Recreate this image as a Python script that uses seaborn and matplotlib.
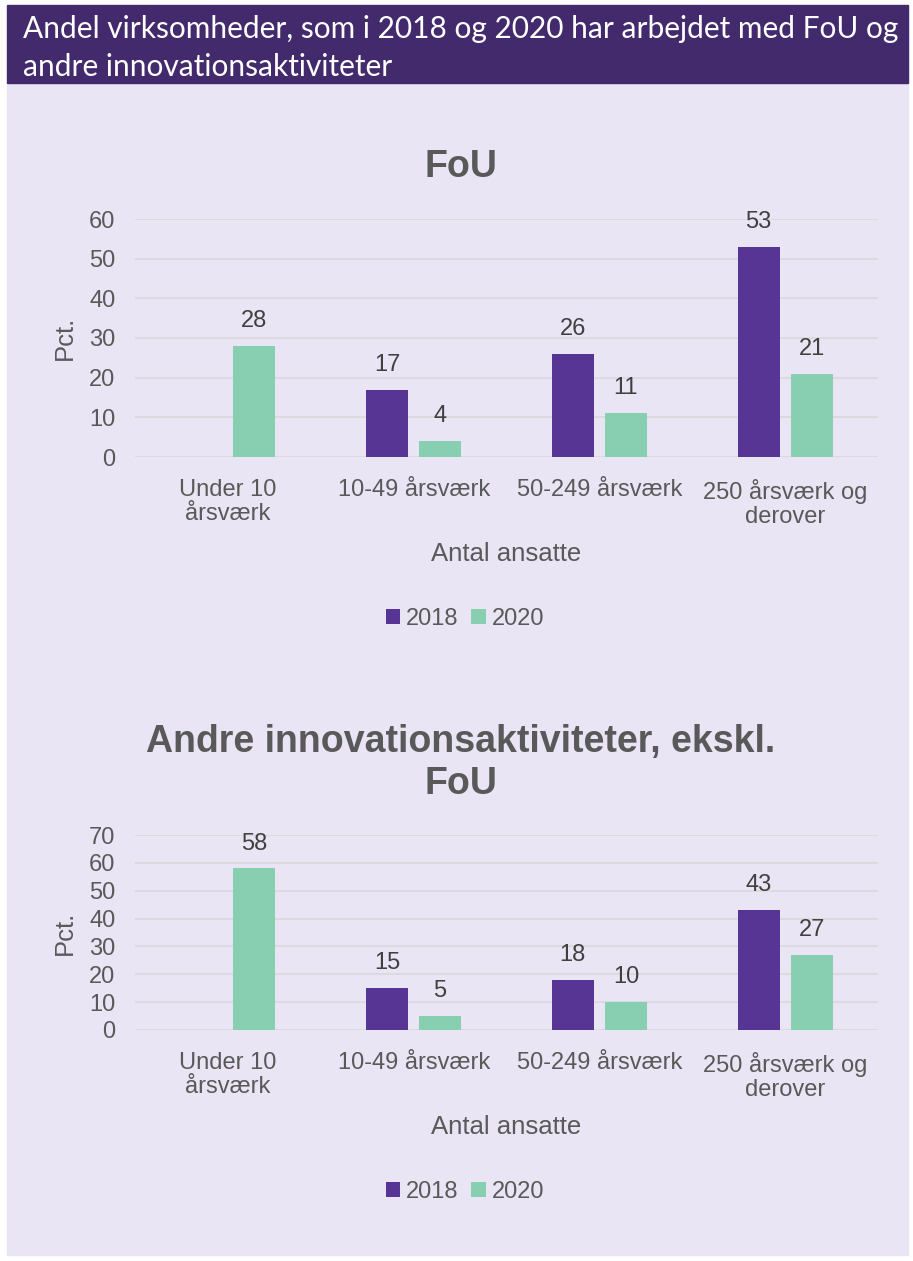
import numpy as np
import pandas as pd
import matplotlib.pyplot as plt
import seaborn as sns
from matplotlib.patches import Rectangle

# data
categories = ["Under 10\nårsværk", "10-49 årsværk", "50-249 årsværk", "250 årsværk og\nderover"]
years = ["2018", "2020"]
fou_2018 = [np.nan, 17, 26, 53]
fou_2020 = [28, 4, 11, 21]
andre_2018 = [np.nan, 15, 18, 43]
andre_2020 = [58, 5, 10, 27]

header_lines = ["Andel virksomheder, som i 2018 og 2020 har arbejdet med FoU og",
                "andre innovationsaktiviteter"]

PURPLE_HEAD = "#422a6d"
LAVENDER = "#e9e5f4"
C2018 = "#573595"
C2020 = "#88cfb1"
GREY = "#595959"
DARK = "#404040"
GRID = "#d9d9d9"

sns.set_style("white")
plt.rcParams["font.family"] = ["Liberation Sans", "DejaVu Sans"]

W, H = 913, 1261


def fx(px):
    return px / W


def fy(py):
    return 1 - py / H


def long_df(v2018, v2020):
    df = pd.DataFrame({
        "kategori": categories * 2,
        "aar": [years[0]] * 4 + [years[1]] * 4,
        "pct": list(v2018) + list(v2020),
    })
    return df.dropna()


fig = plt.figure(figsize=(W / 100, H / 100), dpi=100)
fig.patch.set_facecolor("white")

# panel background and header band
fig.add_artist(Rectangle((fx(7), fy(1255)), fx(908 - 7), (1255 - 83) / H,
                         transform=fig.transFigure, color=LAVENDER, zorder=0))
fig.add_artist(Rectangle((fx(7), fy(83)), fx(908 - 7), (83 - 5) / H,
                         transform=fig.transFigure, color=PURPLE_HEAD, zorder=0))
fig.text(fx(23), fy(38), header_lines[0], color="white", fontsize=21.5,
         family=["Lato", "DejaVu Sans"], va="baseline")
fig.text(fx(23), fy(76), header_lines[1], color="white", fontsize=21.5,
         family=["Lato", "DejaVu Sans"], va="baseline")


def draw_panel(v2018, v2020, top_px, bottom_px, ymax, legend_y):
    ax = fig.add_axes([fx(135), fy(bottom_px), fx(878 - 135), (bottom_px - top_px) / H])
    ax.set_facecolor("none")
    sns.barplot(data=long_df(v2018, v2020), x="kategori", y="pct", hue="aar",
                order=categories, hue_order=years, palette=[C2018, C2020],
                saturation=1, width=0.571, gap=0.21, errorbar=None,
                linewidth=0, ax=ax, zorder=3)
    for cont in ax.containers:
        ax.bar_label(cont, fmt="{:.0f}", padding=10, fontsize=17, color=DARK)
    ax.set_ylim(0, ymax)
    ax.set_yticks(range(0, ymax + 1, 10))
    ax.grid(axis="y", color=GRID, lw=1.2, zorder=0)
    ax.set_axisbelow(True)
    sns.despine(ax=ax, left=True, bottom=True)
    ax.tick_params(axis="both", length=0, labelsize=17, labelcolor=GREY)
    ax.tick_params(axis="y", pad=14)
    ax.tick_params(axis="x", pad=16)
    for lab in ax.get_xticklabels():
        lab.set_linespacing(1.12)
    ax.set_ylabel("Pct.", fontsize=18.5, color=GREY, labelpad=9)
    ax.set_xlabel("Antal ansatte", fontsize=18.5, color=GREY, labelpad=10)
    sns.move_legend(ax, "center", bbox_to_anchor=(fx(465), fy(legend_y)),
                    bbox_transform=fig.transFigure, ncol=2, frameon=False,
                    title=None, fontsize=17, handlelength=0.6, handleheight=0.6,
                    handletextpad=0.25, columnspacing=0.55, labelcolor=GREY)
    return ax


draw_panel(fou_2018, fou_2020, 219, 457, 60, 619)
draw_panel(andre_2018, andre_2020, 835, 1030, 70, 1192)

fig.text(fx(461), fy(177), "FoU", ha="center", va="baseline",
         fontsize=27, fontweight="bold", color=GREY)
fig.text(fx(461), fy(752), "Andre innovationsaktiviteter, ekskl.", ha="center",
         va="baseline", fontsize=27, fontweight="bold", color=GREY)
fig.text(fx(461), fy(794), "FoU", ha="center", va="baseline",
         fontsize=27, fontweight="bold", color=GREY)

fig.savefig("out.png", dpi=100, facecolor=fig.get_facecolor())
